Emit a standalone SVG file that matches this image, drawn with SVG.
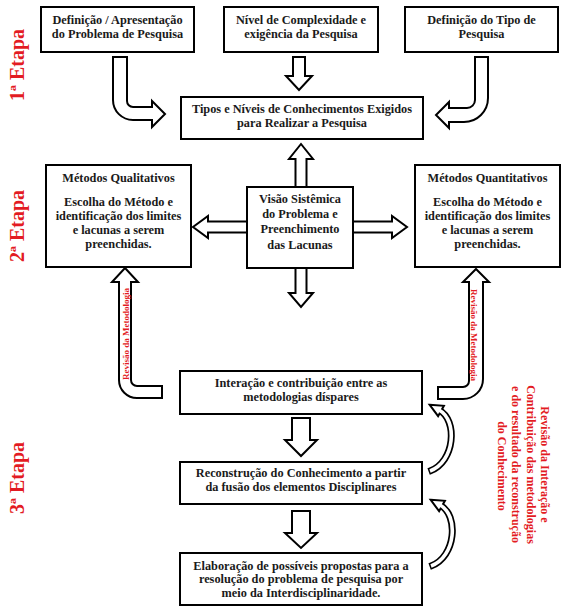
<svg xmlns="http://www.w3.org/2000/svg" width="574" height="615" viewBox="0 0 574 615">
<style>
.box{fill:#fff;stroke:#000;stroke-width:2}
.arr{fill:#fff;stroke:#000;stroke-width:2;stroke-linejoin:miter}
.t{font-family:'Liberation Serif','Times New Roman','DejaVu Serif',serif;font-weight:bold;font-size:12.3px;fill:#1a1a1a;text-anchor:middle}
.red{font-family:'Liberation Serif','Times New Roman','DejaVu Serif',serif;font-weight:bold;fill:#e31b23;text-anchor:middle}
.bandO{fill:none;stroke:#000;stroke-width:7}
.bandI{fill:none;stroke:#fff;stroke-width:3.6}
</style>
<rect width="574" height="615" fill="#fff"/>

<g id="connectors">
  <path class="arr" d="M113,57 L127,57 L127,101 A6 6 0 0 0 133,107 L152,107 L152,101 L165,114 L152,127 L152,120 L133,120 A20 20 0 0 1 113,100 Z"/>
  <path class="arr" d="M293,57 L305,57 L305,76 L312,76 L299,90 L286,76 L293,76 Z"/>
  <path class="arr" d="M475,57 L488,57 L488,98 A24 24 0 0 1 464,122 L449,122 L449,128 L436,115 L449,102 L449,108 L467,108 A8 8 0 0 0 475,100 Z"/>
  <path class="arr" d="M295.5,187 L295.5,159 L289,159 L301,144 L313,159 L306.5,159 L306.5,187 Z"/>
  <path class="arr" d="M295.5,268 L295.5,293 L289,293 L301,307 L313,293 L306.5,293 L306.5,268 Z"/>
  <path class="arr" d="M247,221.5 L208,221.5 L208,216 L193,227 L208,238 L208,232.5 L247,232.5 Z"/>
  <path class="arr" d="M353,221.5 L392,221.5 L392,216 L407,227 L392,238 L392,232.5 L353,232.5 Z"/>
  <path class="arr" d="M125,268 L138,282 L131,282 L131,380 A6 6 0 0 0 137,386 L162,386 L162,398 L137,398 A18 18 0 0 1 119,380 L119,282 L112,282 Z"/>
  <path class="arr" d="M476,269 L489,282 L483,282 L483,379 A20 20 0 0 1 463,399 L438,399 L438,387 L463,387 A6 6 0 0 0 469,381 L469,282 L463,282 Z"/>
  <path class="arr" d="M292,418 L310,418 L310,440 L317,440 L301,456 L285,440 L292,440 Z"/>
  <path class="arr" d="M292,511 L310,511 L310,533 L317,533 L301,548 L285,533 L292,533 Z"/>
  <g id="curve1">
    <path class="bandO" d="M428.6,471.5 L430,471 C455,462 458,420 439,410"/>
    <polygon class="arr" stroke-width="1.6" points="429.7,404.8 443.9,405.8 438.1,416.2"/>
    <path class="bandI" d="M430,471 C455,462 458,420 439,410"/>
  </g>
  <g id="curve2" transform="translate(1,95)">
    <path class="bandO" d="M428.6,471.5 L430,471 C455,462 458,420 439,410"/>
    <polygon class="arr" stroke-width="1.6" points="429.7,404.8 443.9,405.8 438.1,416.2"/>
    <path class="bandI" d="M430,471 C455,462 458,420 439,410"/>
  </g>
  <text class="red" font-size="9" transform="translate(129,334) rotate(-90)">Revisão da Metodologia</text>
  <text class="red" font-size="9" transform="translate(471,335) rotate(90)">Revisão da Metodologia</text>
</g>

<g id="n1">
  <rect class="box" x="41" y="7" width="153" height="45"/>
  <text class="t" x="117.5" y="24">Definição / Apresentação</text>
  <text class="t" x="117.5" y="37.5">do Problema de Pesquisa</text>
</g>
<g id="n2">
  <rect class="box" x="224" y="7" width="154" height="45"/>
  <text class="t" x="301" y="24">Nível de Complexidade e</text>
  <text class="t" x="301" y="37.5">exigência da Pesquisa</text>
</g>
<g id="n3">
  <rect class="box" x="405" y="7" width="153" height="45"/>
  <text class="t" x="481.5" y="24">Definição do Tipo de</text>
  <text class="t" x="481.5" y="37.5">Pesquisa</text>
</g>
<g id="n4">
  <rect class="box" x="181" y="97" width="242" height="42"/>
  <text class="t" x="302" y="113">Tipos e Níveis de Conhecimentos Exigidos</text>
  <text class="t" x="302" y="126.5">para Realizar a Pesquisa</text>
</g>
<g id="n5">
  <rect class="box" x="46" y="165" width="145" height="102"/>
  <text class="t" x="118.5" y="182">Métodos Qualitativos</text>
  <text class="t" x="118.5" y="206">Escolha do Método e</text>
  <text class="t" x="118.5" y="220">identificação dos limites</text>
  <text class="t" x="118.5" y="234">e lacunas a serem</text>
  <text class="t" x="118.5" y="248">preenchidas.</text>
</g>
<g id="n6">
  <rect class="box" x="247" y="187" width="106" height="81"/>
  <text class="t" x="300" y="203">Visão Sistêmica</text>
  <text class="t" x="300" y="218">do Problema e</text>
  <text class="t" x="300" y="233">Preenchimento</text>
  <text class="t" x="300" y="249">das Lacunas</text>
</g>
<g id="n7">
  <rect class="box" x="415" y="165" width="145" height="102"/>
  <text class="t" x="487.5" y="182">Métodos Quantitativos</text>
  <text class="t" x="487.5" y="206">Escolha do Método e</text>
  <text class="t" x="487.5" y="220">identificação dos limites</text>
  <text class="t" x="487.5" y="234">e lacunas a serem</text>
  <text class="t" x="487.5" y="248">preenchidas.</text>
</g>
<g id="n8">
  <rect class="box" x="180" y="371" width="242" height="43"/>
  <text class="t" x="301" y="387">Interação e contribuição entre as</text>
  <text class="t" x="301" y="400.5">metodologias díspares</text>
</g>
<g id="n9">
  <rect class="box" x="180" y="462" width="242" height="42"/>
  <text class="t" x="301" y="477">Reconstrução do Conhecimento a partir</text>
  <text class="t" x="301" y="490.5">da fusão dos elementos Disciplinares</text>
</g>
<g id="n10">
  <rect class="box" x="180" y="553" width="242" height="52"/>
  <text class="t" x="301" y="569.5">Elaboração de possíveis propostas para a</text>
  <text class="t" x="301" y="583">resolução do problema de pesquisa por</text>
  <text class="t" x="301" y="596.5">meio da Interdisciplinaridade.</text>
</g>

<g id="labels">
  <text class="red" font-size="20" transform="translate(24,65) rotate(-90)">1ª Etapa</text>
  <text class="red" font-size="20" transform="translate(24,226) rotate(-90)">2ª Etapa</text>
  <text class="red" font-size="20" transform="translate(24,478) rotate(-90)">3ª Etapa</text>
  <text class="red" font-size="12" transform="translate(541,466) rotate(90)">
    <tspan x="0" dy="0">Revisão da Interação e</tspan>
    <tspan x="0" dy="14.3">Contribuição das metodologias</tspan>
    <tspan x="0" dy="14.3">e do resultado da reconstrução</tspan>
    <tspan x="0" dy="14.3">do Conhecimento</tspan>
  </text>
</g>
</svg>
